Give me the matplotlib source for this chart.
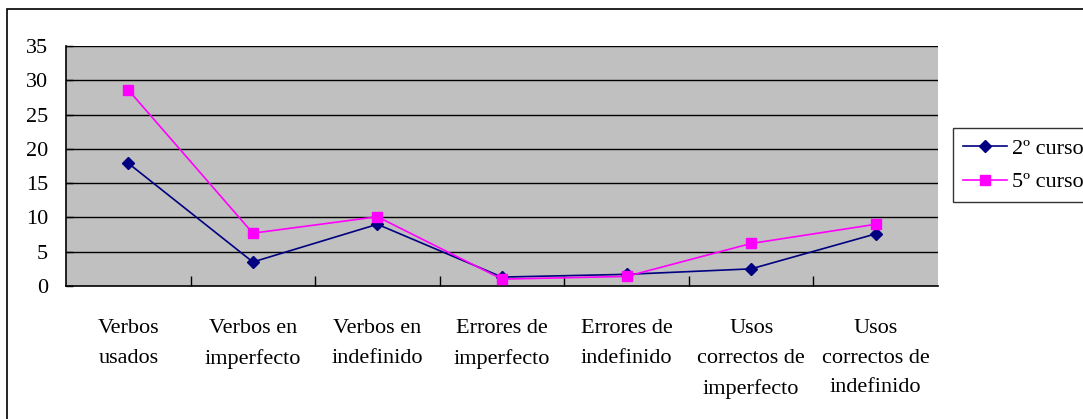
import matplotlib
matplotlib.use("Agg")
import matplotlib.pyplot as plt
from matplotlib.patches import Rectangle

categories = ["Verbos\nusados", "Verbos en\nimperfecto", "Verbos en\nindefinido",
              "Errores de\nimperfecto", "Errores de\nindefinido",
              "Usos\ncorrectos de\nimperfecto", "Usos\ncorrectos de\nindefinido"]
curso2 = [17.9, 3.5, 9.0, 1.3, 1.7, 2.5, 7.6]
curso5 = [28.6, 7.7, 10.1, 1.0, 1.4, 6.2, 9.0]
yticks = [0, 5, 10, 15, 20, 25, 30, 35]

plt.rcParams['font.family'] = ['Liberation Serif', 'DejaVu Serif']
W, H = 1083, 419
fs = 16
fig = plt.figure(figsize=(W/100, H/100), dpi=100)
ax = fig.add_axes([66/W, 1-286/H, (938-66)/W, (286-46)/H])
ax.set_facecolor('#C0C0C0')

x = list(range(len(categories)))
l2, = ax.plot(x, curso2, color='#000080', marker='D', markersize=6, lw=1.2, label='2º curso', zorder=3)
l5, = ax.plot(x, curso5, color='#FF00FF', marker='s', markersize=7, lw=1.2, label='5º curso', zorder=3)

ax.set_xlim(-0.5, len(categories)-0.5)
ax.set_ylim(0, 35)
ax.set_yticks(yticks)
ax.set_yticklabels([str(v) for v in yticks], fontsize=fs)
for v in yticks[1:]:
    ax.axhline(v, color='black', lw=1.0, zorder=1)
ax.set_xticks(x)
ax.set_xticklabels(categories, fontsize=fs, linespacing=1.75, va='top')
ax.tick_params(axis='x', which='major', length=0, pad=24)
ax.set_xticks([i + 0.5 for i in range(len(categories)-1)], minor=True)
ax.tick_params(axis='x', which='minor', direction='in', length=7, width=1, color='black')
ax.tick_params(axis='y', direction='in', length=5, width=1, pad=13)
for s in ['top', 'right']:
    ax.spines[s].set_visible(False)
for s in ['left', 'bottom']:
    ax.spines[s].set_color('black')
    ax.spines[s].set_linewidth(1.2)

leg = fig.legend(handles=[l2, l5], loc='upper left', bbox_to_anchor=(953/W, 1-128/H),
                 fontsize=fs, frameon=True, fancybox=False, edgecolor='black',
                 handlelength=2.0, borderpad=0.45, labelspacing=0.6, handletextpad=0.2,
                 borderaxespad=0)
leg.get_frame().set_linewidth(1.0)

fig.patches.append(Rectangle((7/W, -0.1), 1.2, 1-9/H+0.1, transform=fig.transFigure,
                             fill=False, edgecolor='black', lw=1.2))

fig.savefig('out.png', dpi=100, facecolor='white')
